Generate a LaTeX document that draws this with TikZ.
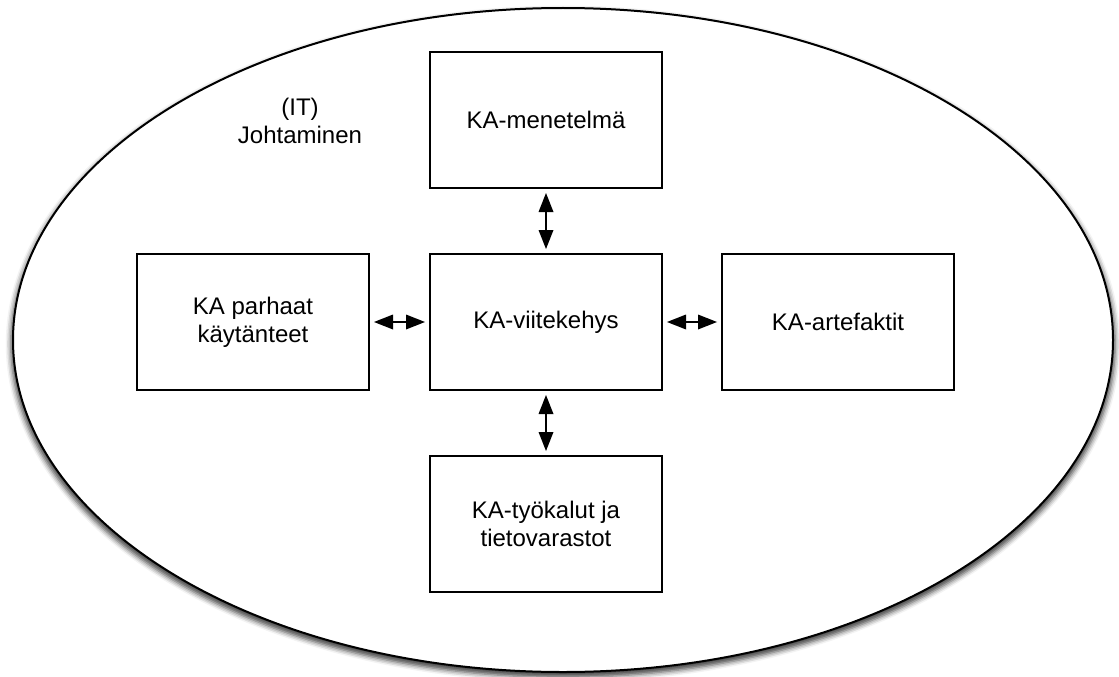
\documentclass[tikz,border=0pt]{standalone}
\usepackage{fontspec}
\setmainfont{Liberation Sans}
\usetikzlibrary{arrows.meta,shadows.blur}
\begin{document}
\begin{tikzpicture}[x=1pt,y=1pt,
  txt/.style={font=\fontsize{24}{28}\selectfont,align=center},
  box/.style={txt,draw,line width=2pt,minimum width=232pt,minimum height=136pt,inner sep=0pt},
  tip/.tip={Triangle[length=19pt,width=15pt,line width=0pt,fill=black]},
  link/.style={line width=2pt,tip-tip,shorten >=4pt,shorten <=4pt}]
\useasboundingbox (0,0) rectangle (1119,-677);

% surrounding domain with a soft drop shadow
\draw[line width=2pt,fill=white,
  blur shadow={shadow xshift=0pt,shadow yshift=-4pt,shadow blur radius=5pt,shadow opacity=75,shadow scale=1.004}]
  (563,-340) ellipse [x radius=550, y radius=332];

\node[txt] (domain) at (300,-121) {(IT)\\Johtaminen};

% framework and its neighbours
\node[box] (method)  at (546,-120) {KA-menetelmä};
\node[box] (frame)   at (546,-322) {KA-viitekehys};
\node[box] (best)    at (253,-322) {KA parhaat\\käytänteet};
\node[box] (artef)   at (838,-322) {KA-artefaktit};
\node[box] (tools)   at (546,-524) {KA-työkalut ja\\tietovarastot};

\draw[link] (method) -- (frame);
\draw[link] (best) -- (frame);
\draw[link] (frame) -- (artef);
\draw[link] (frame) -- (tools);
\end{tikzpicture}
\end{document}
